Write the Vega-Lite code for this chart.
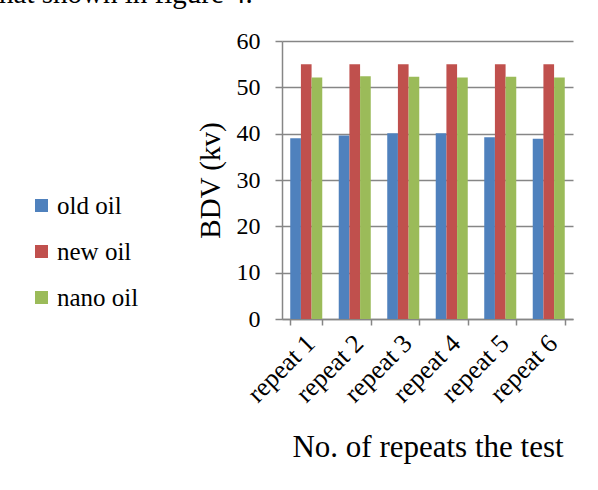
{
  "$schema": "https://vega.github.io/schema/vega-lite/v6.json",
  "width": 291,
  "height": 278,
  "autosize": {"type": "none"},
  "padding": {"left": 282, "top": 41, "right": 25, "bottom": 171},
  "background": "white",
  "title": {
    "text": "that shown in figure 4.",
    "anchor": "start",
    "frame": "group",
    "font": "Liberation Serif",
    "fontSize": 29,
    "fontWeight": "normal",
    "color": "black",
    "baseline": "alphabetic",
    "dx": -291,
    "dy": 3,
    "offset": 0
  },
  "config": {
    "view": {"stroke": null},
    "font": "Liberation Serif",
    "axis": {
      "labelFont": "Liberation Serif",
      "titleFont": "Liberation Serif",
      "labelColor": "black",
      "titleColor": "black",
      "titleFontWeight": "normal",
      "domainColor": "#868686",
      "tickColor": "#868686",
      "gridColor": "#868686",
      "domainWidth": 1.5,
      "tickWidth": 1.5,
      "gridWidth": 1.5
    }
  },
  "data": {
    "values": [
      {"repeat": "repeat 1", "oil": "old oil", "bdv": 39.0},
      {"repeat": "repeat 1", "oil": "new oil", "bdv": 55.0},
      {"repeat": "repeat 1", "oil": "nano oil", "bdv": 52.1},
      {"repeat": "repeat 2", "oil": "old oil", "bdv": 39.6},
      {"repeat": "repeat 2", "oil": "new oil", "bdv": 55.0},
      {"repeat": "repeat 2", "oil": "nano oil", "bdv": 52.4},
      {"repeat": "repeat 3", "oil": "old oil", "bdv": 40.1},
      {"repeat": "repeat 3", "oil": "new oil", "bdv": 55.0},
      {"repeat": "repeat 3", "oil": "nano oil", "bdv": 52.3},
      {"repeat": "repeat 4", "oil": "old oil", "bdv": 40.1},
      {"repeat": "repeat 4", "oil": "new oil", "bdv": 55.0},
      {"repeat": "repeat 4", "oil": "nano oil", "bdv": 52.1},
      {"repeat": "repeat 5", "oil": "old oil", "bdv": 39.2},
      {"repeat": "repeat 5", "oil": "new oil", "bdv": 55.0},
      {"repeat": "repeat 5", "oil": "nano oil", "bdv": 52.3},
      {"repeat": "repeat 6", "oil": "old oil", "bdv": 38.9},
      {"repeat": "repeat 6", "oil": "new oil", "bdv": 55.0},
      {"repeat": "repeat 6", "oil": "nano oil", "bdv": 52.1}
    ]
  },
  "mark": {"type": "bar"},
  "encoding": {
    "x": {
      "field": "repeat",
      "type": "nominal",
      "sort": null,
      "scale": {"paddingInner": 0.34, "paddingOuter": 0.17},
      "axis": {
        "title": "No. of repeats the test",
        "titleFontSize": 31,
        "titlePadding": 26,
        "labelFontSize": 26,
        "labelAngle": -45,
        "labelAlign": "right",
        "labelBaseline": "middle",
        "labelPadding": 14,
        "labelOffset": 4,
        "tickBand": "extent",
        "tickSize": 6,
        "grid": false
      }
    },
    "xOffset": {"field": "oil", "type": "nominal", "sort": ["old oil", "new oil", "nano oil"]},
    "y": {
      "field": "bdv",
      "type": "quantitative",
      "scale": {"domain": [0, 60]},
      "axis": {
        "title": "BDV (kv)",
        "titleFontSize": 29,
        "titlePadding": 11,
        "labelFontSize": 24,
        "labelPadding": 15,
        "values": [0, 10, 20, 30, 40, 50, 60],
        "tickSize": 7,
        "grid": true
      }
    },
    "color": {
      "field": "oil",
      "type": "nominal",
      "sort": ["old oil", "new oil", "nano oil"],
      "scale": {"domain": ["old oil", "new oil", "nano oil"], "range": ["#4F81BD", "#C0504D", "#9BBB59"]},
      "legend": {
        "title": null,
        "orient": "none",
        "legendX": -253,
        "legendY": 152,
        "symbolType": "square",
        "symbolSize": 170,
        "symbolStrokeWidth": 0,
        "symbolOpacity": 1,
        "labelFont": "Liberation Serif",
        "labelFontSize": 25,
        "labelColor": "black",
        "labelOffset": 3,
        "rowPadding": 20
      }
    }
  }
}
